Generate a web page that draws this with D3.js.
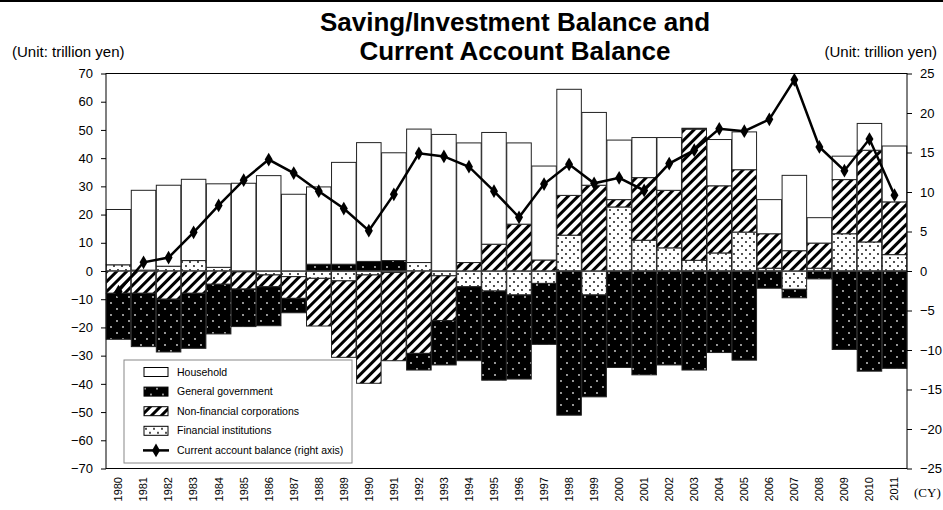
<!DOCTYPE html>
<html>
<head>
<meta charset="utf-8">
<script src="https://cdn.jsdelivr.net/npm/d3@7"></script>
<style>
  body { margin: 0; background: #fff; }
  svg { display: block; font-family: Arial, "Liberation Sans", sans-serif; }
</style>
</head>
<body>
<svg id="chart" width="943" height="510"></svg>
<script>
// values (trillion yen)
var years = ["1980","1981","1982","1983","1984","1985","1986","1987","1988","1989",
  "1990","1991","1992","1993","1994","1995","1996","1997","1998","1999",
  "2000","2001","2002","2003","2004","2005","2006","2007","2008","2009","2010","2011"];

var household = [19.6, 28.3, 28.7, 28.8, 29.6, 31.1, 33.8, 27.2, 27.4, 36.1,
  42.1, 38.2, 47.3, 48.4, 42.4, 39.6, 28.8, 33.3, 37.6, 25.8,
  21.1, 14.2, 18.7, 0.3, 16.4, 13.4, 12.1, 26.7, 9.0, 8.3, 9.5, 19.8];

var government = [-16.3, -18.9, -18.7, -19.5, -17.6, -13.3, -13.8, -5.1, 2.4, 2.4,
  3.4, 3.7, -5.9, -15.7, -26.2, -31.6, -29.8, -21.6, -51.1, -36.1,
  -34.2, -36.8, -33.3, -35.1, -28.9, -31.6, -6.1, -3.0, -2.8, -27.8, -35.5, -34.5];

var nonfinancial = [-7.9, -7.9, -10.0, -7.9, -4.7, -6.1, -4.2, -7.7, -16.9, -27.1,
  -38.4, -31.3, -29.2, -15.9, 3.0, 9.5, 16.6, 3.9, 14.1, 30.4,
  2.6, 22.2, 20.4, 46.5, 23.8, 22.1, 12.2, 7.2, 8.9, 19.2, 32.5, 18.7];

var financial = [2.2, 0.3, 1.7, 3.7, 1.3, -0.3, -1.4, -2.0, -2.6, -3.5,
  -1.4, -0.5, 3.0, -1.7, -5.6, -7.1, -8.5, -4.4, 12.7, -8.5,
  22.7, 10.9, 8.2, 3.8, 6.4, 13.8, 1.0, -6.5, 1.0, 13.2, 10.3, 5.8];

var currentAccount = [-2.6, 1.1, 1.7, 4.9, 8.3, 11.5, 14.1, 12.4, 10.1, 7.9,
  5.1, 9.7, 14.9, 14.5, 13.2, 10.1, 6.8, 11.0, 13.5, 11.1,
  11.8, 10.2, 13.6, 15.3, 18.0, 17.7, 19.2, 24.2, 15.7, 12.7, 16.7, 9.6];

var leftTicks = [70, 60, 50, 40, 30, 20, 10, 0, -10, -20, -30, -40, -50, -60, -70];
var rightTicks = [25, 20, 15, 10, 5, 0, -5, -10, -15, -20, -25];

var legendItems = [
  { key: "hh", label: "Household" },
  { key: "gov", label: "General government" },
  { key: "nonfin", label: "Non-financial corporations" },
  { key: "fin", label: "Financial institutions" },
  { key: "ca", label: "Current account balance (right axis)" }
];

var rows = years.map(function (yr, i) {
  return { year: yr, fin: financial[i], nonfin: nonfinancial[i], gov: government[i], hh: household[i] };
});

var plot = { left: 106, right: 907, top: 73.5, bottom: 468.5 };

var svg = d3.select("#chart");
var defs = svg.append("defs");

// hatch for non-financial corporations
var hatch = defs.append("pattern")
  .attr("id", "hatch")
  .attr("patternUnits", "userSpaceOnUse")
  .attr("width", 7).attr("height", 7)
  .attr("patternTransform", "rotate(45)");
hatch.append("rect").attr("width", 7).attr("height", 7).attr("fill", "#fff");
hatch.append("rect").attr("width", 3).attr("height", 7).attr("fill", "#000");

// sparse black dots for financial institutions
var dotsW = defs.append("pattern")
  .attr("id", "dotsW")
  .attr("patternUnits", "userSpaceOnUse")
  .attr("width", 8).attr("height", 8);
dotsW.append("rect").attr("width", 8).attr("height", 8).attr("fill", "#fff");
dotsW.append("circle").attr("cx", 2).attr("cy", 2).attr("r", 0.9).attr("fill", "#000");
dotsW.append("circle").attr("cx", 6).attr("cy", 6).attr("r", 0.9).attr("fill", "#000");

// white dots on black for general government
var dotsB = defs.append("pattern")
  .attr("id", "dotsB")
  .attr("patternUnits", "userSpaceOnUse")
  .attr("width", 12).attr("height", 12);
dotsB.append("rect").attr("width", 12).attr("height", 12).attr("fill", "#000");
dotsB.append("circle").attr("cx", 3).attr("cy", 3).attr("r", 0.9).attr("fill", "#ddd");
dotsB.append("circle").attr("cx", 9).attr("cy", 9).attr("r", 0.9).attr("fill", "#ddd");

var fills = { hh: "#fff", gov: "url(#dotsB)", nonfin: "url(#hatch)", fin: "url(#dotsW)" };

var x = d3.scaleBand()
  .domain(years)
  .range([plot.left, plot.right])
  .paddingInner(0.02)
  .paddingOuter(0.01);

var y = d3.scaleLinear().domain([-70, 70]).range([plot.bottom, plot.top]);
var y2 = d3.scaleLinear().domain([-25, 25]).range([plot.bottom, plot.top]);

// top border of the page
svg.append("rect").attr("x", 0).attr("y", 0).attr("width", 943).attr("height", 2).attr("fill", "#000");

// titles
svg.append("text").attr("x", 515).attr("y", 30.5)
  .attr("text-anchor", "middle").attr("font-size", 26).attr("font-weight", "bold")
  .text("Saving/Investment Balance and");
svg.append("text").attr("x", 515).attr("y", 60)
  .attr("text-anchor", "middle").attr("font-size", 26).attr("font-weight", "bold")
  .text("Current Account Balance");
svg.append("text").attr("x", 12).attr("y", 57).attr("font-size", 15).text("(Unit: trillion yen)");
svg.append("text").attr("x", 937).attr("y", 57).attr("text-anchor", "end").attr("font-size", 15).text("(Unit: trillion yen)");

// stacked bars
var series = d3.stack()
  .keys(["fin", "nonfin", "gov", "hh"])
  .offset(d3.stackOffsetDiverging)(rows);

svg.append("g")
  .selectAll("g")
  .data(series)
  .join("g")
  .attr("fill", function (d) { return fills[d.key]; })
  .selectAll("rect")
  .data(function (d) { return d; })
  .join("rect")
  .attr("x", function (d) { return x(d.data.year); })
  .attr("y", function (d) { return y(d[1]); })
  .attr("width", x.bandwidth())
  .attr("height", function (d) { return Math.abs(y(d[0]) - y(d[1])); })
  .attr("stroke", "#222")
  .attr("stroke-width", 1);

// zero line and plot frame
svg.append("line")
  .attr("x1", plot.left).attr("x2", plot.right)
  .attr("y1", y(0)).attr("y2", y(0))
  .attr("stroke", "#555").attr("stroke-width", 1);
svg.append("rect")
  .attr("x", plot.left).attr("y", plot.top)
  .attr("width", plot.right - plot.left).attr("height", plot.bottom - plot.top)
  .attr("fill", "none").attr("stroke", "#000").attr("stroke-width", 1);

// current account line
var line = d3.line()
  .x(function (d, i) { return x(years[i]) + x.bandwidth() / 2; })
  .y(function (d) { return y2(d); });

svg.append("path")
  .datum(currentAccount)
  .attr("d", line)
  .attr("fill", "none")
  .attr("stroke", "#000")
  .attr("stroke-width", 2.5);

var diamond = d3.symbol().type(d3.symbolDiamond).size(55);
svg.append("g")
  .selectAll("path")
  .data(currentAccount)
  .join("path")
  .attr("d", diamond)
  .attr("transform", function (d, i) {
    return "translate(" + (x(years[i]) + x.bandwidth() / 2) + "," + y2(d) + ")";
  })
  .attr("fill", "#000");

// axes
var yAxis = svg.append("g")
  .attr("transform", "translate(" + plot.left + ",0)")
  .call(d3.axisLeft(y).tickValues(leftTicks).tickSize(5).tickPadding(8).tickSizeOuter(0));
var y2Axis = svg.append("g")
  .attr("transform", "translate(" + plot.right + ",0)")
  .call(d3.axisRight(y2).tickValues(rightTicks).tickSize(5).tickPadding(8).tickSizeOuter(0));

[yAxis, y2Axis].forEach(function (g) {
  g.select(".domain").remove();
  g.selectAll("text").attr("font-size", 13).attr("font-family", "Arial, 'Liberation Sans', sans-serif").attr("fill", "#000");
  g.selectAll("line").attr("stroke", "#000");
});

// year labels, rotated
svg.append("g")
  .selectAll("text")
  .data(years)
  .join("text")
  .attr("transform", function (d) {
    return "translate(" + (x(d) + x.bandwidth() / 2) + ",477) rotate(-90)";
  })
  .attr("text-anchor", "end")
  .attr("dy", "0.35em")
  .attr("font-size", 11)
  .text(function (d) { return d; });

svg.append("text")
  .attr("x", 914).attr("y", 497)
  .attr("font-family", "'Times New Roman', 'Liberation Serif', serif")
  .attr("font-size", 13)
  .text("(CY)");

// legend
var legend = svg.append("g").attr("transform", "translate(124,360)");
legend.append("rect")
  .attr("width", 228).attr("height", 103)
  .attr("fill", "#fff").attr("stroke", "#888").attr("stroke-width", 1);

var item = legend.selectAll("g.item")
  .data(legendItems)
  .join("g")
  .attr("class", "item")
  .attr("transform", function (d, i) { return "translate(0," + (12 + i * 19.6) + ")"; });

item.filter(function (d) { return d.key !== "ca"; })
  .append("rect")
  .attr("x", 20).attr("y", -4.5)
  .attr("width", 24).attr("height", 9)
  .attr("fill", function (d) { return fills[d.key]; })
  .attr("stroke", "#000").attr("stroke-width", 1);

var caItem = item.filter(function (d) { return d.key === "ca"; });
caItem.append("line")
  .attr("x1", 19).attr("x2", 45)
  .attr("stroke", "#000").attr("stroke-width", 2.5);
caItem.append("path")
  .attr("d", diamond)
  .attr("transform", "translate(32,0)")
  .attr("fill", "#000");

item.append("text")
  .attr("x", 53)
  .attr("dy", "0.35em")
  .attr("font-size", 10.5)
  .text(function (d) { return d.label; });
</script>
</body>
</html>
